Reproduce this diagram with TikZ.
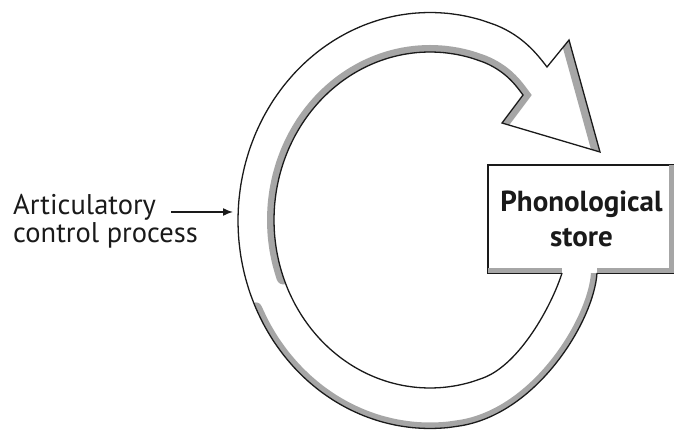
\documentclass[tikz,border=0pt]{standalone}
\usepackage{fontspec}
\setmainfont{PT Sans}
\usetikzlibrary{arrows.meta}
\definecolor{loopInk}{HTML}{1A1A1A}
\definecolor{loopShade}{HTML}{A6A6A6}
\tikzset{
    >=Latex,
    sidetext/.style={font=\fontsize{28.5}{30}\selectfont, text=loopInk, inner sep=0pt, anchor=base west},
    storebox/.style={draw=loopInk, line width=1.5pt, fill=white, minimum width=187pt, minimum height=108pt, inner sep=0pt, align=center, font=\fontsize{29}{35}\selectfont\bfseries, text=loopInk},
    ringline/.style={draw=loopInk, line width=1.3pt, line join=miter},
    ringshade/.style={draw=loopShade, line width=14pt, line cap=round},
    arrow/.style={-{Latex[length=10pt,width=8pt]}, line width=1.5pt, draw=loopInk}
}
\begin{document}
\begin{tikzpicture}[x=1pt, y=-1pt]
\useasboundingbox (0,0) rectangle (674,430);
% phonological store
\node[storebox] (store) at (581.5,219) {Phonological\\store};
\fill[loopShade] ([shift={(1pt,0.8pt)}]store.south west) rectangle ([shift={(-0.8pt,6pt)}]store.south east);
\fill[loopShade] ([shift={(-7pt,0.8pt)}]store.south east) rectangle ([shift={(-0.8pt,-0.8pt)}]store.north east);
% loop band: outer rim, arrow head, inner rim
\path[save path=\bandpath] (597,273) .. controls (594,320) and (539,411) .. (463.3,425.3)
    -- plot[smooth, domain=80:290, samples=43, variable=\t] ({430+192*cos(\t)}, {220.5+208*sin(\t)})
    .. controls (523,36) and (537,54) .. (547,67)
    -- (569,40) -- (600,152) -- (502,123) -- (523,95)
    .. controls (515,84) and (505,71) .. (483.4,62.1)
    -- plot[smooth, domain=290:70, samples=45, variable=\t] ({430+156*cos(\t)}, {220+168*sin(\t)})
    .. controls (520,364) and (552,305) .. (562,273);
\fill[white, use path=\bandpath];
\fill[white] (562,264) rectangle (597,275);
\begin{scope}
    \clip[use path=\bandpath];
    \draw[ringshade] plot[smooth, domain=160:290, samples=27, variable=\t] ({430+156*cos(\t)}, {220+168*sin(\t)})
        .. controls (505,71) and (515,84) .. (523,95) -- (502,123);
    \draw[ringshade, line width=12pt] plot[smooth, domain=155:80, samples=16, variable=\t] ({430+192*cos(\t)}, {220.5+208*sin(\t)})
        .. controls (539,411) and (594,320) .. (597,273) -- (597,262);
    \draw[ringshade, line width=16pt] (569,40) -- (600,152);
\end{scope}
\draw[ringline, use path=\bandpath];
% articulatory control process
\node[sidetext] (artic) at (13,215) {Articulatory};
\node[sidetext] (ctrl) at (13,243) {control process};
\coordinate (ringin) at (233,212);
\draw[arrow] ([xshift=15pt]artic.east |- ringin) -- (ringin);
\end{tikzpicture}
\end{document}
